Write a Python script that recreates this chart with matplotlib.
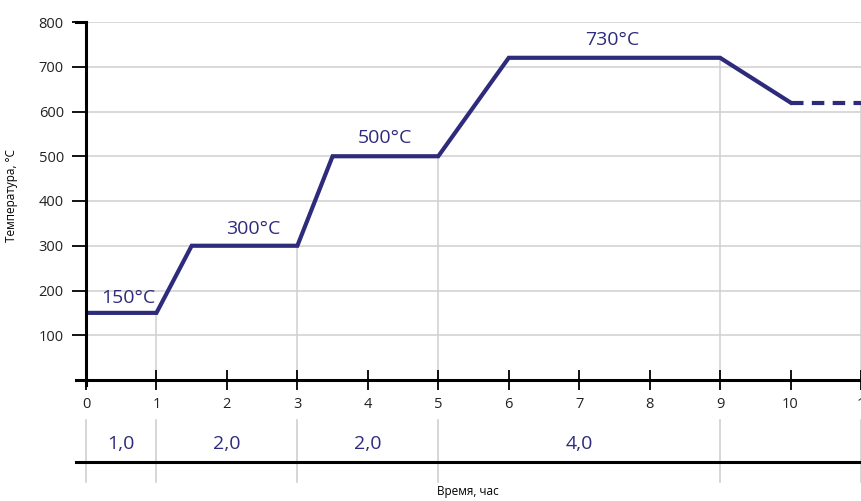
import matplotlib
matplotlib.use("Agg")
import matplotlib.pyplot as plt

plt.rcParams['font.family'] = ['Open Sans', 'DejaVu Sans']

# режим термообработки
time = [0, 1, 1.5, 3, 3.5, 5, 6, 9, 10]
temp = [150, 150, 300, 300, 500, 500, 720, 720, 620]
tail_time = [10, 11]
tail_temp = [620, 620]

step_labels = ["150°C", "300°C", "500°C", "730°C"]
step_pos = [(0.6, 183), (2.38, 337), (4.24, 541), (7.47, 760)]

dur_labels = ["1,0", "2,0", "2,0", "4,0"]
dur_pos = [0.5, 2, 4, 7]
bounds = [0, 1, 3, 5, 9, 11]
bound_temp = [None, 150, 300, 500, 720, 620]

xticks = list(range(0, 12))
yticks = [100, 200, 300, 400, 500, 600, 700, 800]

navy = "#2e2b7c"
grid = "#d0d0d0"

W, H = 862, 501
fig = plt.figure(figsize=(W / 100, H / 100), dpi=100)

# основной график
ax = fig.add_axes([86 / W, (H - 380) / H, 775 / W, 358 / H])
ax.set_xlim(0, 11)
ax.set_ylim(0, 800)
for s in ["top", "right", "left", "bottom"]:
    ax.spines[s].set_visible(False)

for y in yticks:
    ax.plot([0, 11], [y, y], color=grid, lw=1.1, zorder=1)
for x, t in zip(bounds, bound_temp):
    if t is not None:
        ax.plot([x, x], [0, t], color=grid, lw=1.1, zorder=1)

# оси
ax.plot([0, 0], [-12, 800], color="black", lw=2.2, clip_on=False, zorder=4)
ax.plot([-0.14, 11], [0, 0], color="black", lw=2.2, clip_on=False, zorder=4)
ax.plot([-0.14, 0], [800, 800], color="black", lw=2.2, clip_on=False, zorder=4)

ax.set_xticks(xticks)
ax.set_xticklabels(["0", "1", "2", "3", "4", "5", "6", "7", "8", "9", "10", "1"])
ax.set_yticks(yticks)
ax.tick_params(axis="x", direction="inout", length=14, width=1.3, labelsize=10.5,
               pad=5, labelcolor="#222222")
ax.tick_params(axis="y", direction="out", length=10, width=1.3, labelsize=10.5,
               pad=6, labelcolor="#222222")

ax.plot(time, temp, color=navy, lw=3, solid_joinstyle="miter", zorder=3)
ax.plot(tail_time, tail_temp, color=navy, lw=3, ls=(0, (3, 2)), clip_on=False, zorder=3)

for lab, (x, y) in zip(step_labels, step_pos):
    ax.text(x, y, lab, color=navy, fontsize=14, ha="center", va="center")

# нижняя шкала длительности
ax2 = fig.add_axes([86 / W, (H - 482) / H, 775 / W, 62 / H])
ax2.set_xlim(0, 11)
ax2.set_ylim(0, 1)
ax2.axis("off")
for x in bounds:
    ax2.plot([x, x], [0, 1], color=grid, lw=1.2, clip_on=False)
ax2.plot([-0.14, 11], [0.32, 0.32], color="black", lw=2.2, clip_on=False)
for lab, x in zip(dur_labels, dur_pos):
    ax2.text(x, 0.62, lab, color=navy, fontsize=14, ha="center", va="center")

fig.text(468 / W, 1 - 492 / H, "Время, час", fontsize=8.5, ha="center", va="center")
fig.text(12 / W, 1 - 196 / H, "Температура, °C", fontsize=8.5, rotation=90,
         ha="center", va="center")

fig.savefig("out.png", dpi=100, facecolor="white")
